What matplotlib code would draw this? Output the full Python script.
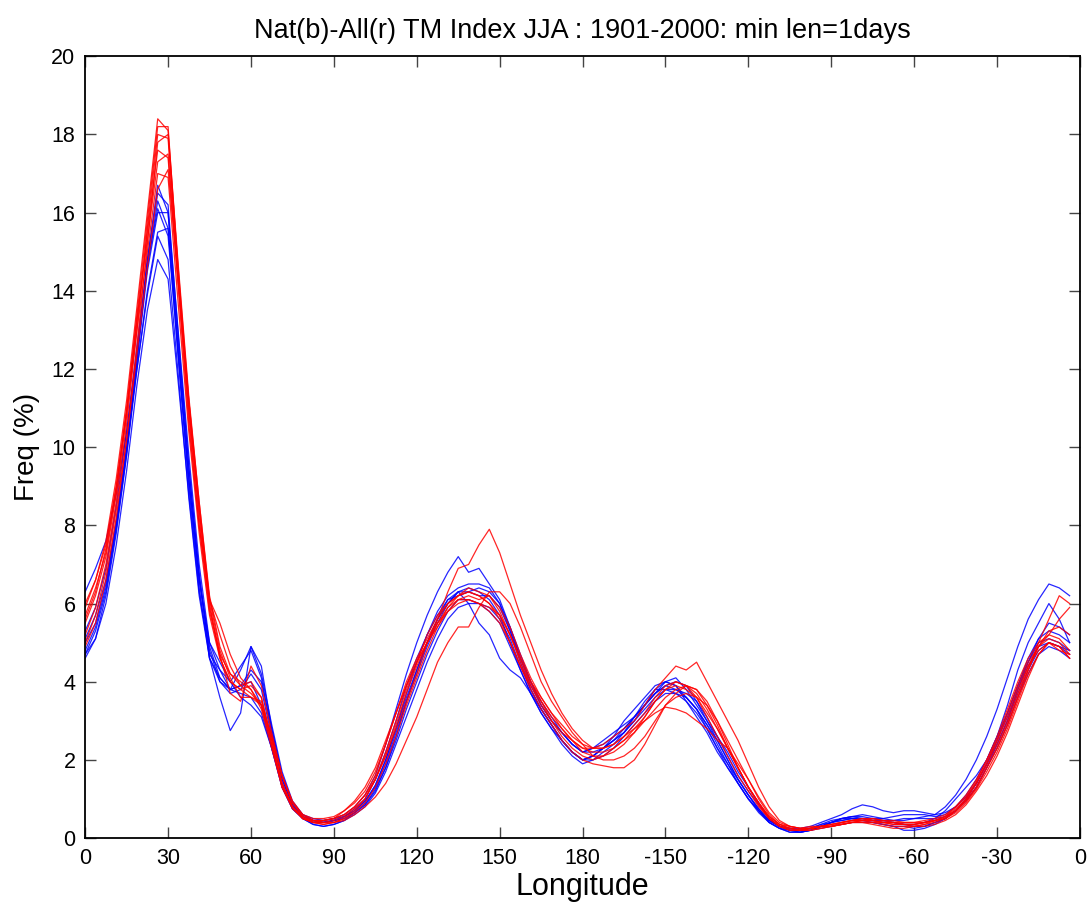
import matplotlib
matplotlib.use("Agg")
import matplotlib.pyplot as plt
import numpy as np

plt.rcParams["font.family"] = ["Liberation Sans", "DejaVu Sans"]

# longitude grid, 3.75 deg spacing (0 .. 356.25)
lon = np.arange(96) * 3.75

tick_pos = [0, 30, 60, 90, 120, 150, 180, 210, 240, 270, 300, 330, 360]
tick_labels = ["0", "30", "60", "90", "120", "150", "180",
               "-150", "-120", "-90", "-60", "-30", "0"]

# All-forcings ensemble members (red)
all_r1 = [5.9, 6.6, 7.6, 9.2, 11.2, 13.6, 16.0, 18.4, 18.1, 14.6, 11.3, 8.6, 6.2, 4.9, 4.2, 3.9, 4.0, 3.6, 2.4, 1.3, 0.8, 0.5, 0.4, 0.45,
          0.5, 0.7, 0.9, 1.2, 1.7, 2.4, 3.2, 4.0, 4.6, 5.1, 5.6, 6.0, 6.2, 6.3, 6.2, 6.0, 5.7, 5.2, 4.6, 4.0, 3.5, 3.0, 2.6, 2.3,
          2.1, 2.0, 2.1, 2.3, 2.5, 2.8, 3.1, 3.5, 3.8, 3.9, 3.8, 3.6, 3.1, 2.6, 2.1, 1.6, 1.2, 0.8, 0.5, 0.3, 0.2, 0.2, 0.25, 0.3,
          0.35, 0.4, 0.45, 0.45, 0.4, 0.4, 0.35, 0.35, 0.35, 0.4, 0.45, 0.55, 0.8, 1.1, 1.5, 2.0, 2.5, 3.1, 3.8, 4.4, 4.9, 5.1, 5.0, 4.7]
all_r2 = [5.6, 6.3, 7.4, 9.0, 11.0, 13.4, 15.8, 18.2, 18.2, 14.4, 11.0, 8.4, 6.0, 4.6, 4.0, 3.8, 3.6, 3.4, 2.4, 1.4, 0.8, 0.5, 0.4, 0.4,
          0.45, 0.55, 0.75, 1.0, 1.5, 2.1, 2.8, 3.5, 4.2, 5.0, 5.6, 6.3, 6.9, 7.0, 7.5, 7.9, 7.3, 6.5, 5.7, 5.0, 4.3, 3.7, 3.2, 2.8,
          2.5, 2.3, 2.3, 2.4, 2.6, 2.9, 3.2, 3.6, 3.9, 4.0, 3.9, 3.6, 3.2, 2.8, 2.3, 1.8, 1.3, 0.9, 0.5, 0.3, 0.2, 0.2, 0.25, 0.3,
          0.3, 0.4, 0.45, 0.5, 0.45, 0.4, 0.4, 0.35, 0.3, 0.35, 0.45, 0.5, 0.7, 1.0, 1.4, 1.9, 2.4, 3.0, 3.7, 4.4, 4.8, 5.0, 4.9, 4.6]
all_r3 = [5.2, 5.9, 7.0, 8.6, 10.6, 13.0, 15.6, 18.0, 17.9, 14.2, 10.8, 8.0, 5.8, 4.7, 4.2, 4.0, 3.8, 3.3, 2.3, 1.3, 0.75, 0.5, 0.45, 0.45,
          0.5, 0.6, 0.8, 1.1, 1.5, 2.1, 2.9, 3.7, 4.4, 5.0, 5.5, 5.9, 6.1, 6.2, 6.1, 6.2, 5.9, 5.4, 4.7, 4.1, 3.6, 3.2, 2.8, 2.5,
          2.3, 2.3, 2.4, 2.6, 2.8, 3.0, 3.4, 3.8, 4.1, 4.4, 4.3, 4.5, 4.0, 3.5, 3.0, 2.5, 1.9, 1.3, 0.8, 0.45, 0.3, 0.25, 0.3, 0.3,
          0.35, 0.4, 0.45, 0.5, 0.5, 0.45, 0.4, 0.4, 0.4, 0.4, 0.45, 0.55, 0.75, 1.0, 1.4, 1.9, 2.5, 3.2, 3.9, 4.5, 4.9, 5.2, 5.1, 4.8]
all_r4 = [4.9, 5.5, 6.6, 8.2, 10.2, 12.6, 15.2, 17.8, 18.0, 14.5, 11.2, 8.4, 6.1, 4.8, 4.1, 3.6, 3.6, 3.5, 2.6, 1.6, 0.95, 0.6, 0.45, 0.4,
          0.4, 0.45, 0.6, 0.8, 1.05, 1.4, 1.9, 2.5, 3.1, 3.8, 4.5, 5.0, 5.4, 5.4, 5.9, 6.3, 6.3, 6.0, 5.4, 4.7, 4.0, 3.5, 3.1, 2.7,
          2.4, 2.1, 2.0, 2.0, 2.1, 2.3, 2.6, 3.0, 3.4, 3.6, 3.7, 3.6, 3.4, 3.0, 2.5, 2.0, 1.5, 1.0, 0.6, 0.35, 0.25, 0.2, 0.2, 0.25,
          0.3, 0.35, 0.4, 0.4, 0.4, 0.35, 0.3, 0.3, 0.3, 0.35, 0.4, 0.5, 0.65, 0.9, 1.25, 1.7, 2.2, 2.8, 3.5, 4.2, 4.7, 5.0, 4.9, 4.6]
all_r5 = [5.5, 6.2, 7.2, 8.8, 10.8, 13.2, 15.5, 17.6, 17.4, 14.0, 10.6, 8.0, 6.1, 5.2, 4.4, 3.9, 3.7, 3.4, 2.5, 1.4, 0.8, 0.5, 0.4, 0.35,
          0.4, 0.5, 0.7, 1.0, 1.5, 2.2, 3.0, 3.8, 4.5, 5.0, 5.5, 5.8, 6.0, 6.1, 6.0, 5.9, 5.7, 5.2, 4.6, 4.0, 3.6, 3.2, 2.9, 2.6,
          2.4, 2.3, 2.3, 2.4, 2.6, 2.8, 3.0, 3.2, 3.35, 3.3, 3.2, 3.0, 2.8, 2.5, 2.3, 1.9, 1.5, 1.05, 0.65, 0.4, 0.3, 0.25, 0.25, 0.3,
          0.3, 0.35, 0.4, 0.45, 0.45, 0.4, 0.35, 0.35, 0.35, 0.4, 0.45, 0.55, 0.7, 0.95, 1.3, 1.8, 2.3, 2.9, 3.6, 4.3, 4.9, 5.3, 5.4, 5.2]
all_r6 = [6.0, 6.6, 7.5, 9.0, 10.9, 13.0, 15.0, 17.0, 16.9, 13.6, 10.4, 7.8, 5.7, 4.6, 4.0, 3.8, 3.9, 3.6, 2.5, 1.4, 0.8, 0.55, 0.45, 0.45,
          0.5, 0.6, 0.8, 1.1, 1.6, 2.4, 3.2, 3.9, 4.5, 5.2, 5.7, 6.0, 6.2, 6.4, 6.3, 6.2, 5.8, 5.2, 4.5, 3.9, 3.4, 3.0, 2.7, 2.5,
          2.3, 2.2, 2.2, 2.3, 2.5, 2.7, 3.0, 3.3, 3.6, 3.8, 3.9, 3.8, 3.4, 2.9, 2.3, 1.8, 1.3, 0.85, 0.5, 0.3, 0.25, 0.2, 0.25, 0.3,
          0.35, 0.4, 0.45, 0.45, 0.45, 0.4, 0.4, 0.35, 0.35, 0.4, 0.45, 0.5, 0.7, 0.95, 1.3, 1.8, 2.3, 2.9, 3.6, 4.3, 5.0, 5.6, 6.2, 6.0]
all_r7 = [5.0, 5.7, 6.8, 8.4, 10.2, 12.4, 14.6, 16.6, 17.1, 14.2, 11.2, 8.6, 6.1, 5.5, 4.7, 4.1, 3.8, 3.4, 2.6, 1.6, 0.9, 0.55, 0.4, 0.35,
          0.4, 0.5, 0.65, 0.9, 1.3, 1.9, 2.6, 3.4, 4.1, 4.8, 5.4, 5.9, 6.2, 6.3, 6.2, 6.0, 5.6, 5.0, 4.4, 3.8, 3.3, 2.9, 2.5, 2.2,
          2.0, 1.9, 1.85, 1.8, 1.8, 2.0, 2.4, 2.9, 3.4, 3.7, 3.9, 3.8, 3.5, 3.0, 2.4, 1.8, 1.3, 0.9, 0.55, 0.35, 0.3, 0.25, 0.25, 0.3,
          0.3, 0.35, 0.4, 0.4, 0.35, 0.3, 0.25, 0.25, 0.3, 0.3, 0.35, 0.45, 0.6, 0.85, 1.2, 1.6, 2.1, 2.7, 3.4, 4.1, 4.7, 5.0, 4.8, 4.7]
all_r8 = [5.7, 6.4, 7.3, 8.9, 10.9, 13.3, 15.3, 17.3, 17.5, 14.3, 11.0, 8.2, 5.9, 4.7, 3.7, 3.5, 4.4, 3.9, 2.7, 1.6, 0.9, 0.6, 0.5, 0.5,
          0.55, 0.7, 0.95, 1.3, 1.8, 2.5, 3.2, 3.9, 4.5, 5.0, 5.4, 5.8, 6.1, 6.1, 6.0, 5.8, 5.5, 5.0, 4.4, 3.9, 3.5, 3.1, 2.8, 2.5,
          2.2, 2.1, 2.1, 2.2, 2.4, 2.7, 3.1, 3.5, 3.8, 4.0, 3.9, 3.7, 3.3, 2.8, 2.3, 1.8, 1.3, 0.9, 0.55, 0.35, 0.25, 0.2, 0.2, 0.25,
          0.3, 0.35, 0.4, 0.45, 0.5, 0.45, 0.45, 0.4, 0.4, 0.45, 0.5, 0.6, 0.8, 1.05, 1.45, 2.0, 2.6, 3.3, 4.0, 4.6, 5.0, 5.2, 5.6, 5.9]

# Natural-forcings ensemble members (blue)
nat_b1 = [4.6, 5.1, 6.2, 7.8, 9.8, 12.2, 14.8, 16.7, 16.0, 12.4, 9.2, 6.6, 4.8, 4.0, 3.7, 3.8, 4.2, 3.8, 2.6, 1.5, 0.85, 0.55, 0.45, 0.45,
          0.5, 0.6, 0.8, 1.1, 1.6, 2.4, 3.3, 4.2, 5.0, 5.7, 6.3, 6.8, 7.2, 6.8, 6.9, 6.5, 6.1, 5.4, 4.6, 3.9, 3.4, 3.0, 2.7, 2.4,
          2.2, 2.3, 2.5, 2.7, 2.9, 3.1, 3.4, 3.7, 4.0, 4.1, 3.8, 3.4, 3.0, 2.6, 2.2, 1.7, 1.3, 0.9, 0.5, 0.3, 0.2, 0.15, 0.2, 0.3,
          0.4, 0.5, 0.55, 0.6, 0.55, 0.5, 0.45, 0.45, 0.5, 0.55, 0.6, 0.8, 1.1, 1.5, 2.0, 2.6, 3.3, 4.1, 4.9, 5.6, 6.1, 6.5, 6.4, 6.2]
nat_b2 = [4.8, 5.4, 6.4, 8.0, 10.0, 12.4, 14.8, 16.5, 16.2, 12.8, 9.5, 6.8, 4.6, 3.6, 2.75, 3.2, 4.9, 4.4, 2.8, 1.6, 0.9, 0.6, 0.5, 0.45,
          0.5, 0.55, 0.7, 0.95, 1.35, 2.0, 2.8, 3.6, 4.3, 5.0, 5.6, 6.0, 6.3, 6.4, 6.3, 6.1, 5.7, 5.0, 4.3, 3.7, 3.2, 2.8, 2.5, 2.2,
          2.0, 2.1, 2.3, 2.5, 2.7, 3.0, 3.4, 3.8, 4.0, 3.9, 3.6, 3.3, 2.9, 2.5, 2.0, 1.5, 1.1, 0.7, 0.4, 0.25, 0.15, 0.15, 0.2, 0.3,
          0.4, 0.45, 0.5, 0.5, 0.45, 0.4, 0.4, 0.35, 0.3, 0.3, 0.4, 0.5, 0.7, 1.0, 1.4, 1.9, 2.5, 3.1, 3.8, 4.4, 4.9, 5.0, 4.9, 4.8]
nat_b3 = [6.3, 6.9, 7.6, 8.8, 10.4, 12.4, 14.6, 16.3, 15.6, 12.2, 9.0, 6.4, 4.6, 4.0, 3.8, 3.9, 4.0, 3.4, 2.3, 1.3, 0.75, 0.5, 0.4, 0.4,
          0.45, 0.55, 0.75, 1.0, 1.5, 2.2, 3.0, 3.9, 4.6, 5.2, 5.7, 6.1, 6.3, 6.0, 5.5, 5.2, 4.6, 4.3, 4.1, 3.7, 3.3, 2.9, 2.5, 2.2,
          2.0, 2.1, 2.3, 2.5, 2.8, 3.1, 3.4, 3.7, 3.9, 3.8, 3.6, 3.3, 2.8, 2.3, 1.9, 1.5, 1.1, 0.75, 0.45, 0.3, 0.2, 0.2, 0.25, 0.35,
          0.45, 0.5, 0.55, 0.5, 0.5, 0.5, 0.55, 0.6, 0.6, 0.6, 0.55, 0.6, 0.8, 1.1, 1.5, 2.0, 2.6, 3.2, 3.9, 4.6, 5.1, 5.3, 5.2, 5.0]
nat_b4 = [5.0, 5.5, 6.5, 8.0, 9.9, 12.2, 14.5, 16.0, 16.0, 12.9, 9.8, 7.0, 5.0, 4.3, 3.8, 3.9, 4.3, 4.0, 2.8, 1.6, 0.9, 0.55, 0.45, 0.4,
          0.45, 0.55, 0.7, 0.95, 1.3, 1.9, 2.7, 3.5, 4.2, 4.9, 5.5, 6.0, 6.3, 6.3, 6.2, 6.2, 5.9, 5.3, 4.6, 4.0, 3.5, 3.1, 2.7, 2.4,
          2.2, 2.2, 2.3, 2.5, 2.7, 3.0, 3.3, 3.6, 3.8, 3.8, 3.7, 3.5, 3.1, 2.6, 2.1, 1.6, 1.2, 0.85, 0.5, 0.3, 0.25, 0.25, 0.3, 0.4,
          0.5, 0.6, 0.75, 0.85, 0.8, 0.7, 0.65, 0.7, 0.7, 0.65, 0.6, 0.65, 0.8, 1.05, 1.4, 1.9, 2.5, 3.2, 3.9, 4.5, 5.0, 5.1, 5.0, 4.8]
nat_b5 = [4.7, 5.3, 6.3, 7.9, 9.8, 12.0, 14.0, 15.5, 15.6, 12.6, 9.5, 6.7, 4.9, 4.1, 3.8, 4.3, 4.9, 4.2, 2.9, 1.7, 0.95, 0.6, 0.45, 0.4,
          0.45, 0.5, 0.65, 0.85, 1.2, 1.8, 2.6, 3.5, 4.3, 5.0, 5.6, 6.1, 6.2, 6.3, 6.4, 6.3, 6.0, 5.3, 4.5, 3.8, 3.3, 2.9, 2.5, 2.2,
          2.0, 2.1, 2.3, 2.6, 3.0, 3.3, 3.6, 3.9, 4.0, 3.9, 3.5, 3.1, 2.7, 2.2, 1.8, 1.4, 1.0, 0.7, 0.4, 0.25, 0.2, 0.2, 0.25, 0.35,
          0.4, 0.5, 0.55, 0.55, 0.5, 0.45, 0.4, 0.35, 0.35, 0.4, 0.5, 0.7, 1.0, 1.3, 1.6, 2.0, 2.6, 3.4, 4.3, 5.0, 5.5, 6.0, 5.6, 5.0]
nat_b6 = [5.1, 5.7, 6.6, 8.1, 10.0, 12.0, 13.9, 15.4, 14.8, 11.8, 8.7, 6.2, 4.6, 4.1, 3.8, 3.7, 3.6, 3.2, 2.3, 1.3, 0.75, 0.5, 0.4, 0.4,
          0.45, 0.5, 0.65, 0.85, 1.25, 1.8, 2.5, 3.3, 4.0, 4.7, 5.3, 5.8, 6.1, 6.1, 6.0, 5.8, 5.5, 4.9, 4.3, 3.7, 3.2, 2.8, 2.4, 2.1,
          1.9, 2.0, 2.2, 2.4, 2.7, 3.1, 3.5, 3.8, 3.8, 3.7, 3.5, 3.2, 2.8, 2.3, 1.8, 1.4, 1.0, 0.7, 0.45, 0.3, 0.2, 0.15, 0.2, 0.3,
          0.4, 0.45, 0.5, 0.45, 0.4, 0.35, 0.3, 0.2, 0.2, 0.25, 0.35, 0.5, 0.7, 1.0, 1.4, 1.9, 2.4, 3.0, 3.7, 4.3, 4.8, 5.0, 4.9, 4.7]
nat_b7 = [4.7, 5.1, 6.0, 7.5, 9.4, 11.6, 13.5, 14.8, 14.3, 11.6, 8.8, 6.3, 4.7, 4.3, 4.0, 3.6, 3.4, 3.1, 2.3, 1.4, 0.8, 0.5, 0.35, 0.3,
          0.35, 0.45, 0.6, 0.8, 1.15, 1.7, 2.4, 3.1, 3.8, 4.5, 5.1, 5.6, 5.9, 6.0, 6.0, 5.9, 5.6, 5.1, 4.4, 3.8, 3.3, 2.9, 2.5, 2.2,
          2.0, 2.0, 2.1, 2.3, 2.6, 2.9, 3.2, 3.5, 3.7, 3.7, 3.6, 3.3, 2.9, 2.4, 1.9, 1.4, 1.0, 0.65, 0.4, 0.25, 0.15, 0.15, 0.2, 0.25,
          0.3, 0.35, 0.4, 0.4, 0.4, 0.35, 0.3, 0.3, 0.25, 0.3, 0.4, 0.5, 0.7, 0.95, 1.3, 1.8, 2.3, 2.9, 3.6, 4.2, 4.7, 4.9, 4.8, 4.6]
nat_b8 = [5.3, 5.9, 6.9, 8.5, 10.4, 12.6, 14.7, 16.1, 15.4, 12.3, 9.2, 6.6, 5.0, 4.5, 4.0, 4.4, 4.8, 4.1, 2.7, 1.5, 0.85, 0.5, 0.35, 0.3,
          0.35, 0.45, 0.65, 0.9, 1.35, 2.0, 2.8, 3.7, 4.5, 5.2, 5.8, 6.2, 6.4, 6.5, 6.5, 6.4, 6.0, 5.4, 4.7, 4.0, 3.4, 3.0, 2.7, 2.4,
          2.2, 2.3, 2.4, 2.6, 2.8, 3.1, 3.4, 3.7, 3.9, 4.0, 3.9, 3.5, 3.0, 2.5, 2.0, 1.5, 1.1, 0.75, 0.45, 0.3, 0.25, 0.2, 0.25, 0.3,
          0.4, 0.5, 0.5, 0.5, 0.45, 0.45, 0.45, 0.5, 0.5, 0.5, 0.5, 0.55, 0.7, 0.95, 1.3, 1.8, 2.4, 3.0, 3.8, 4.5, 5.1, 5.5, 5.4, 5.2]

nat_runs = [nat_b1, nat_b2, nat_b3, nat_b4, nat_b5, nat_b6, nat_b7, nat_b8]
all_runs = [all_r1, all_r2, all_r3, all_r4, all_r5, all_r6, all_r7, all_r8]


def plot_tm_index():
    fig = plt.figure(figsize=(10.92, 9.22), dpi=100)
    ax = fig.add_axes([0.078, 0.091, 0.911, 0.848])

    for run in nat_runs:
        ax.plot(lon, run, color="blue", lw=0.9, alpha=0.85)
    for run in all_runs:
        ax.plot(lon, run, color="red", lw=0.9, alpha=0.85)

    ax.set_xlim(0, 360)
    ax.set_ylim(0, 20)
    ax.set_xticks(tick_pos)
    ax.set_xticklabels(tick_labels)
    ax.set_yticks(np.arange(0, 21, 2))
    ax.tick_params(direction="in", length=8, width=1, top=True, right=True,
                   labelsize=15.5, color="#444444", pad=7)
    for sp in ax.spines.values():
        sp.set_linewidth(1.3)

    ax.set_title("Nat(b)-All(r) TM Index JJA : 1901-2000: min len=1days",
                 fontsize=19.5, pad=13)
    ax.set_xlabel("Longitude", fontsize=22, labelpad=2)
    ax.set_ylabel("Freq (%)", fontsize=20, labelpad=8)

    fig.savefig("out.png", dpi=100)


if __name__ == "__main__":
    plot_tm_index()
